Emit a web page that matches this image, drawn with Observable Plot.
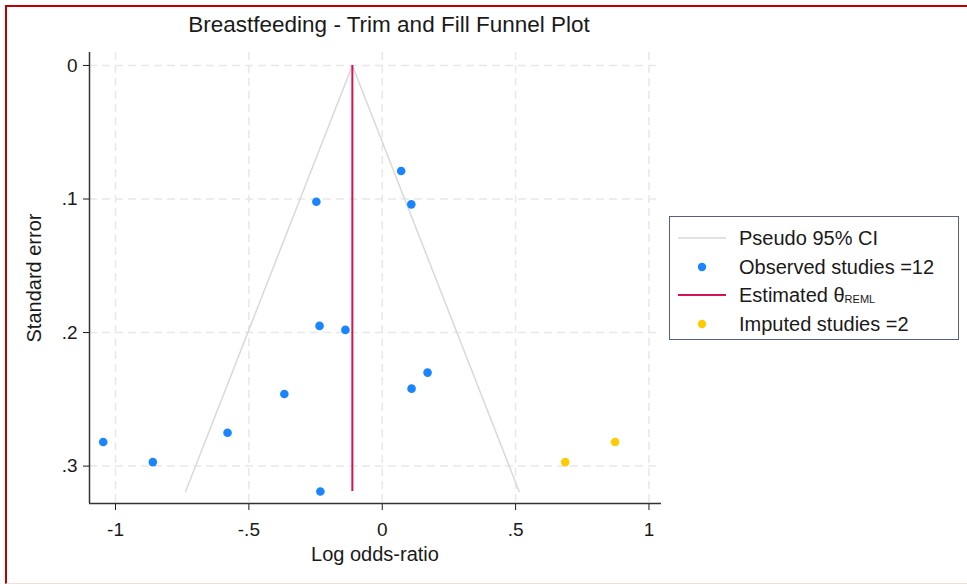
<!DOCTYPE html>
<html>
<head>
<meta charset="utf-8">
<script src="https://cdn.jsdelivr.net/npm/d3@7"></script>
<script src="https://cdn.jsdelivr.net/npm/@observablehq/plot@0.6"></script>
<style>
  html, body { margin: 0; padding: 0; background: #fff; }
  body {
    width: 967px; height: 584px; overflow: hidden; position: relative;
    font-family: "Liberation Sans", Arial, sans-serif; color: #1a1a1a;
  }
  #frame {
    position: absolute; left: 5px; top: 5px; width: 970px; height: 576px;
    border-left: 2px solid #c00000; border-top: 2px solid #c00000;
    border-bottom: 1px solid #f2dcdc;
  }
  #chart { position: absolute; left: 0; top: 0; }
  .txt { position: absolute; white-space: nowrap; line-height: 1; }
  #title { font-size: 22.5px; left: -111px; width: 1000px; text-align: center; top: 14.3px; }
  #xlabel { font-size: 20px; left: -125px; width: 1000px; text-align: center; top: 543.8px; }
  #ylabel { font-size: 20px; left: 34px; top: 277.5px; transform: translate(-50%, -50%) rotate(-90deg); }
  #legend {
    position: absolute; left: 669px; top: 216px; width: 288px; height: 122px;
    border: 1.5px solid #53627f; background: #fff;
  }
  .row { position: absolute; left: 0; height: 28px; width: 100%; }
  .key { position: absolute; left: 8px; width: 48px; top: 0; height: 28px; }
  .key svg { display: block; }
  .lab { position: absolute; left: 69px; font-size: 20px; top: 4px; line-height: 20px; }
  .lab sub { font-size: 11px; vertical-align: -1px; line-height: 0; }
</style>
</head>
<body>
<div id="frame"></div>
<div id="chart"></div>
<div id="title" class="txt">Breastfeeding - Trim and Fill Funnel Plot</div>
<div id="xlabel" class="txt">Log odds-ratio</div>
<div id="ylabel" class="txt">Standard error</div>
<div id="legend"></div>
<script>
// Observed studies: log odds-ratio and its standard error
const observedLogOR = [0.071, -0.247, 0.109, -0.235, -0.138, 0.170, 0.110, -0.367, -1.046, -0.860, -0.580, -0.232];
const observedSE    = [0.079,  0.102, 0.104,  0.195,  0.198, 0.230, 0.242,  0.246,  0.282,  0.297,  0.275,  0.319];

// Studies imputed by trim and fill
const imputedLogOR = [0.686, 0.873];
const imputedSE    = [0.297, 0.282];

// REML pooled estimate and the largest standard error (funnel depth)
const thetaREML = -0.112;
const maxSE = 0.319;
const zCrit = 1.96;

// Axis ticks and their labels
const xTicks = [-1, -0.5, 0, 0.5, 1];
const xTickLabels = ["-1", "-.5", "0", ".5", "1"];
const yTicks = [0, 0.1, 0.2, 0.3];
const yTickLabels = ["0", ".1", ".2", ".3"];

// Legend entries
const legendLabels = ["Pseudo 95% CI", "Observed studies =12", "Estimated θ<sub>REML</sub>", "Imputed studies =2"];
const legendKinds = ["line", "dot", "line", "dot"];

const colors = {ci: "#d9d9d9", observed: "#1a85ff", theta: "#d41159", imputed: "#ffcb05", grid: "#e8e8e8", axis: "#333"};
const legendColors = [colors.ci, colors.observed, colors.theta, colors.imputed];

const observed = observedLogOR.map((x, i) => ({x, se: observedSE[i]}));
const imputed = imputedLogOR.map((x, i) => ({x, se: imputedSE[i]}));
const funnel = [
  {x: thetaREML - zCrit * maxSE, se: maxSE},
  {x: thetaREML, se: 0},
  {x: thetaREML + zCrit * maxSE, se: maxSE}
];

const xDomain = [-1.0975, 1.047];
const yDomain = [-0.0097, 0.328];

const chart = Plot.plot({
  width: 967,
  height: 584,
  marginLeft: 89,
  marginRight: 306,
  marginTop: 52,
  marginBottom: 81,
  style: {
    fontFamily: "'Liberation Sans', Arial, sans-serif",
    fontSize: "19px",
    color: "#1a1a1a",
    background: "transparent",
    overflow: "visible"
  },
  x: {
    domain: xDomain,
    ticks: xTicks,
    tickFormat: d => xTickLabels[xTicks.indexOf(d)],
    tickSize: 7,
    tickPadding: 12,
    label: null
  },
  y: {
    domain: yDomain,
    reverse: true,
    ticks: yTicks,
    tickFormat: d => yTickLabels[yTicks.indexOf(d)],
    tickSize: 6,
    tickPadding: 6,
    label: null
  },
  marks: [
    // dashed grid
    Plot.ruleX(xTicks, {y1: yDomain[0], y2: yDomain[1], stroke: colors.grid, strokeWidth: 1.5, strokeDasharray: "8,5"}),
    Plot.ruleY(yTicks, {x1: xDomain[0], x2: xDomain[1], stroke: colors.grid, strokeWidth: 1.5, strokeDasharray: "8,5"}),
    // pseudo 95% confidence funnel
    Plot.line(funnel, {x: "x", y: "se", stroke: colors.ci, strokeWidth: 1.5}),
    // pooled estimate
    Plot.ruleX([thetaREML], {y1: 0, y2: maxSE, stroke: colors.theta, strokeWidth: 2}),
    // studies
    Plot.dot(observed, {x: "x", y: "se", r: 4.3, fill: colors.observed}),
    Plot.dot(imputed, {x: "x", y: "se", r: 4.3, fill: colors.imputed}),
    // axis lines
    Plot.ruleX([xDomain[0]], {y1: yDomain[0], y2: yDomain[1], stroke: colors.axis, strokeWidth: 1.5}),
    Plot.ruleY([yDomain[1]], {x1: xDomain[0], x2: xDomain[1], stroke: colors.axis, strokeWidth: 1.5})
  ]
});
document.getElementById("chart").appendChild(chart);

// legend
const legend = d3.select("#legend");
const rowTops = [7, 35.5, 64, 92.5];
legendLabels.forEach((label, i) => {
  const row = legend.append("div").attr("class", "row").style("top", rowTops[i] + "px");
  const svg = row.append("div").attr("class", "key")
    .append("svg").attr("width", 48).attr("height", 28);
  if (legendKinds[i] === "line") {
    svg.append("line").attr("x1", 0).attr("x2", 48).attr("y1", 14).attr("y2", 14)
      .attr("stroke", legendColors[i]).attr("stroke-width", i === 2 ? 2 : 1.5);
  } else {
    svg.append("circle").attr("cx", 24).attr("cy", 14).attr("r", 4.2).attr("fill", legendColors[i]);
  }
  row.append("div").attr("class", "lab").html(label);
});
</script>
</body>
</html>
